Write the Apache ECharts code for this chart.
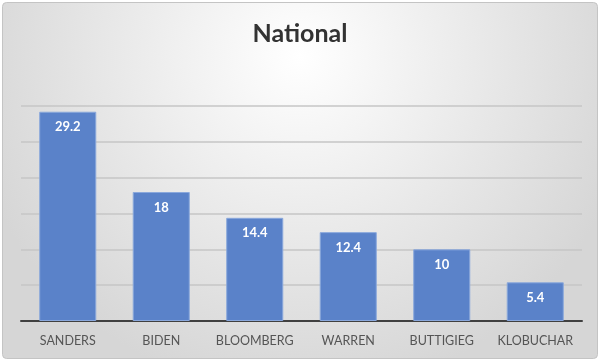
<!DOCTYPE html>
<html><head><meta charset="utf-8">
<script src="https://cdn.jsdelivr.net/npm/echarts@6/dist/echarts.min.js"></script>
<style>html,body{margin:0;padding:0;background:#fff}#c{width:600px;height:361px}</style>
</head><body><div id="c"></div>
<script>
const categories = ["SANDERS","BIDEN","BLOOMBERG","WARREN","BUTTIGIEG","KLOBUCHAR"];
const values = [29.2, 18, 14.4, 12.4, 10, 5.4];
const chart = echarts.init(document.getElementById('c'), null, {renderer:'canvas'});
chart.setOption({
  animation:false,
  backgroundColor:'#ffffff',
  graphic:[{
    type:'rect', z:-10, silent:true,
    shape:{x:2.5,y:2.5,width:595,height:356,r:4},
    style:{
      fill:{type:'radial',x:0.5,y:0.15,r:0.95,colorStops:[{offset:0,color:'#ffffff'},{offset:1,color:'#d6d6d6'}]},
      stroke:'#c4c4c4',lineWidth:1
    }
  }],
  title:{text:'National',left:'center',top:16,
    textStyle:{fontFamily:'Lato',fontWeight:'bold',fontSize:25,color:'#333333'}},
  grid:{left:21,right:18,top:106,bottom:40},
  xAxis:{type:'category',data:categories,
    axisLine:{lineStyle:{color:'#404040',width:2}},
    axisTick:{show:false},
    axisLabel:{interval:0,fontFamily:'Lato',fontSize:12.5,color:'#555555',margin:13}},
  yAxis:{type:'value',min:0,max:30,interval:5,
    axisLabel:{show:false},axisLine:{show:false},axisTick:{show:false},
    splitLine:{lineStyle:{color:'#c6c6c6',width:1.5}}},
  series:[{type:'bar',data:values,barWidth:'61%',
    itemStyle:{color:'#5a82c9',borderColor:'#8aa8dc',borderWidth:1},
    label:{show:true,position:'insideTop',distance:9,color:'#ffffff',
      fontFamily:'Lato',fontWeight:'bold',fontSize:13}}]
});
</script></body></html>
